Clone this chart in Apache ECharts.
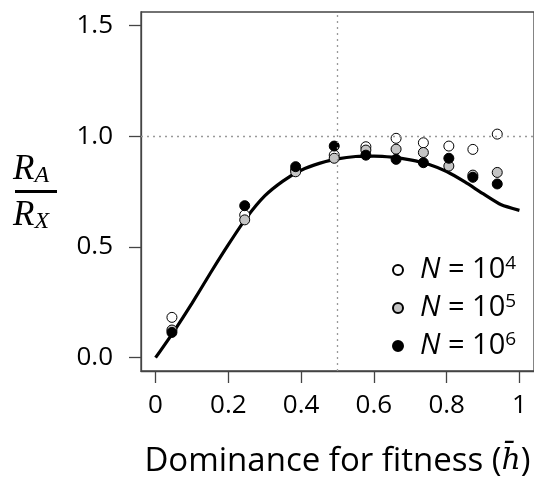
<!DOCTYPE html>
<html>
<head>
<meta charset="utf-8">
<script src="https://cdn.jsdelivr.net/npm/echarts@6/dist/echarts.min.js"></script>
<style>
  html, body { margin: 0; padding: 0; background: #fff; }
  #chart { width: 534px; height: 485px; }
</style>
</head>
<body>
<div id="chart"></div>
<script>
// dominance values of the simulated points
var hBar = [0.045, 0.245, 0.385, 0.491, 0.578, 0.661, 0.736, 0.806, 0.872, 0.939];
// R_A / R_X for each population size
var ratioN4 = [0.182, 0.644, 0.847, 0.914, 0.952, 0.990, 0.970, 0.955, 0.940, 1.009];
var ratioN5 = [0.125, 0.622, 0.839, 0.900, 0.937, 0.941, 0.926, 0.865, 0.824, 0.836];
var ratioN6 = [0.114, 0.686, 0.862, 0.955, 0.914, 0.895, 0.880, 0.900, 0.814, 0.784];
// theory curve
var curveX = [0, 0.05, 0.1, 0.15, 0.2, 0.25, 0.3, 0.35, 0.4, 0.45, 0.5, 0.55, 0.6, 0.65, 0.7, 0.75, 0.8, 0.85, 0.9, 0.95, 1.0];
var curveY = [0, 0.118, 0.245, 0.38, 0.51, 0.632, 0.73, 0.797, 0.846, 0.877, 0.897, 0.908, 0.91, 0.905, 0.893, 0.873, 0.84, 0.793, 0.74, 0.69, 0.665];
var xTicks = [0, 0.2, 0.4, 0.6, 0.8, 1];
var yTicks = [0, 0.5, 1, 1.5];
var seriesNames = ['N = 10^4', 'N = 10^5', 'N = 10^6'];
var exps = ['4', '5', '6'];

function zip(xs, ys) {
    return xs.map(function (x, i) { return [x, ys[i]]; });
}

var font = '"Open Sans", sans-serif';
var serif = '"Liberation Serif", serif';
var myChart = echarts.init(document.getElementById('chart'));

function pointSeries(name, data, fill) {
    return {
        name: name,
        type: 'scatter',
        data: zip(hBar, data),
        symbol: 'circle',
        symbolSize: 10,
        z: 3,
        itemStyle: { color: fill, borderColor: '#000', borderWidth: 1, opacity: 1 }
    };
}

var fracRich = {
    r: { fontFamily: serif, fontStyle: 'italic', fontSize: 35, lineHeight: 36, fill: '#000' },
    s: { fontFamily: serif, fontStyle: 'italic', fontSize: 24, lineHeight: 24, verticalAlign: 'bottom', fill: '#000' }
};
var axisColor = '#444';

myChart.setOption({
    animation: false,
    backgroundColor: '#fff',
    grid: {
        left: 141, top: 12, width: 397, height: 359,
        show: true, borderColor: axisColor, borderWidth: 1.3, backgroundColor: 'transparent'
    },
    xAxis: {
        type: 'value', min: -0.04, max: 1.04,
        axisLine: { show: true, onZero: false, lineStyle: { color: axisColor, width: 1.3 } },
        splitLine: { show: false },
        axisTick: { show: true, inside: false, length: 12, customValues: xTicks, lineStyle: { color: axisColor, width: 1.3 } },
        axisLabel: {
            customValues: xTicks, margin: 22, color: '#000',
            fontFamily: font, fontSize: 26,
            formatter: function (v) { return String(+v.toFixed(1)); }
        },
        name: 'Dominance for fitness ({h|h\u0304})',
        nameLocation: 'middle',
        nameGap: 74,
        nameTextStyle: {
            color: '#000', fontFamily: font, fontSize: 33,
            rich: { h: { fontFamily: '"DejaVu Serif", serif', fontStyle: 'italic', fontSize: 30, color: '#000' } }
        }
    },
    yAxis: {
        type: 'value', min: -0.06, max: 1.56,
        axisLine: { show: true, onZero: false, lineStyle: { color: axisColor, width: 1.3 } },
        splitLine: { show: false },
        axisTick: { show: true, inside: false, length: 12, customValues: yTicks, lineStyle: { color: axisColor, width: 1.3 } },
        axisLabel: {
            customValues: yTicks, margin: 28, color: '#000',
            fontFamily: font, fontSize: 26,
            formatter: function (v) { return v.toFixed(1); }
        }
    },
    legend: {
        orient: 'vertical',
        left: 387, top: 249,
        itemWidth: 10, itemHeight: 10, itemGap: 6,
        icon: 'circle',
        data: seriesNames,
        formatter: function (name) {
            var e = exps[seriesNames.indexOf(name)];
            return '{i|N} = 10{s|' + e + '}';
        },
        textStyle: {
            color: '#000', fontFamily: font, fontSize: 29, lineHeight: 32,
            padding: [0, 0, 0, 12],
            rich: {
                i: { fontStyle: 'italic', fontFamily: font, fontSize: 29, lineHeight: 32, color: '#000' },
                s: { fontFamily: font, fontSize: 19, lineHeight: 19, verticalAlign: 'top', color: '#000' }
            }
        }
    },
    graphic: [
        { type: 'text', left: 13, top: 152, style: { text: '{r|R}{s|A}', rich: fracRich } },
        { type: 'rect', shape: { x: 15, y: 190, width: 42, height: 3 }, style: { fill: '#000' } },
        { type: 'text', left: 13, top: 198, style: { text: '{r|R}{s|X}', rich: fracRich } }
    ],
    series: [
        {
            name: 'theory',
            type: 'line',
            data: zip(curveX, curveY),
            smooth: 0.2,
            showSymbol: false,
            z: 2,
            lineStyle: { color: '#000', width: 3.2 },
            markLine: {
                silent: true,
                symbol: ['none', 'none'],
                label: { show: false },
                lineStyle: { color: '#999', type: [2, 4], width: 1.3 },
                data: [{ xAxis: 0.5 }, { yAxis: 1 }]
            }
        },
        pointSeries(seriesNames[0], ratioN4, '#ffffff'),
        pointSeries(seriesNames[1], ratioN5, '#c4c4c4'),
        pointSeries(seriesNames[2], ratioN6, '#000000')
    ]
});
</script>
</body>
</html>
